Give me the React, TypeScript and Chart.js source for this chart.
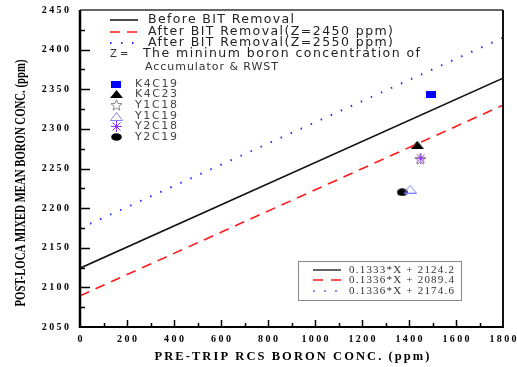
import React, { useEffect, useRef } from 'react';
import { Chart, registerables } from 'chart.js';

Chart.register(...registerables);

// ---- data ----
const lineX = [0, 1800];
const beforeLine = [2124.2, 2364.1];
const after2450Line = [2089.4, 2329.9];
const after2550Line = [2174.6, 2415.1];
const lineLabels = ['Before BIT Removal', 'After BIT Removal(Z=2450 ppm)', 'After BIT Removal(Z=2550 ppm)'];
const noteLabels = ['Z =', 'The mininum boron concentration of', 'Accumulator & RWST'];
const fitLabels = ['0.1333*X + 2124.2', '0.1336*X + 2089.4', '0.1336*X + 2174.6'];
const pointNames = ['K4C19', 'K4C23', 'Y1C18', 'Y1C19', 'Y2C18', 'Y2C19'];
const pointX = [1494, 1435, 1448, 1405, 1450, 1371];
const pointY = [2344, 2280, 2262, 2224, 2263, 2220];
const xTickLabels = ['0', '200', '400', '600', '800', '1000', '1200', '1400', '1600', '1800'];
const yTickLabels = ['2050', '2100', '2150', '2200', '2250', '2300', '2350', '2400', '2450'];
const xTitle = 'PRE-TRIP RCS BORON CONC. (ppm)';
const yTitle = 'POST-LOCA MIXED MEAN BORON CONC. (ppm)';

type Ctx = CanvasRenderingContext2D;

function mk(w: number, h: number, draw: (c: Ctx) => void): HTMLCanvasElement {
  const cv = document.createElement('canvas');
  cv.width = w;
  cv.height = h;
  const c = cv.getContext('2d') as Ctx;
  draw(c);
  return cv;
}

function makeMarkers(): HTMLCanvasElement[] {
  const square = mk(10, 7, (c) => { c.fillStyle = '#0000ff'; c.fillRect(0, 0, 10, 7); });
  const tri = mk(13, 8, (c) => {
    c.fillStyle = '#000';
    c.beginPath(); c.moveTo(6.5, 0); c.lineTo(13, 8); c.lineTo(0, 8); c.closePath(); c.fill();
  });
  const star = mk(13, 12, (c) => {
    c.strokeStyle = '#888'; c.lineWidth = 1;
    c.beginPath();
    for (let i = 0; i < 10; i++) {
      const r = i % 2 === 0 ? 5.8 : 2.5;
      const a = -Math.PI / 2 + (i * Math.PI) / 5;
      const px = 6.5 + r * Math.cos(a);
      const py = 6.5 + r * Math.sin(a);
      if (i === 0) c.moveTo(px, py); else c.lineTo(px, py);
    }
    c.closePath(); c.stroke();
  });
  const otri = mk(13, 9, (c) => {
    c.strokeStyle = '#8080ff'; c.lineWidth = 1;
    c.beginPath(); c.moveTo(6.5, 0.5); c.lineTo(12.5, 8.5); c.lineTo(0.5, 8.5); c.closePath(); c.stroke();
  });
  const ast = mk(11, 11, (c) => {
    c.strokeStyle = '#9933ff'; c.lineWidth = 1;
    c.beginPath();
    c.moveTo(5.5, 0); c.lineTo(5.5, 11);
    c.moveTo(0, 5.5); c.lineTo(11, 5.5);
    c.moveTo(1.5, 1.5); c.lineTo(9.5, 9.5);
    c.moveTo(9.5, 1.5); c.lineTo(1.5, 9.5);
    c.stroke();
  });
  const circ = mk(11, 8, (c) => {
    c.fillStyle = '#000';
    c.beginPath(); c.ellipse(5.5, 4, 5.3, 3.8, 0, 0, Math.PI * 2); c.fill();
  });
  return [square, tri, star, otri, ast, circ];
}

function fitText(ctx: Ctx, text: string, x: number, y: number, font: string, color: string, target: number, align: string = 'left') {
  ctx.save();
  ctx.font = font;
  ctx.fillStyle = color;
  ctx.textBaseline = 'middle';
  ctx.textAlign = 'left';
  (ctx as any).letterSpacing = '0px';
  const w = ctx.measureText(text).width;
  const n = text.length;
  const ls = n > 1 ? (target - w) / (n - 1) : 0;
  (ctx as any).letterSpacing = ls + 'px';
  const left = align === 'right' ? x - target : align === 'center' ? x - target / 2 : x;
  ctx.fillText(text, left, y);
  ctx.restore();
}

function spacedText(ctx: Ctx, text: string, x: number, y: number, font: string, ls: number, align: string) {
  ctx.save();
  ctx.font = font;
  ctx.fillStyle = '#000';
  ctx.textBaseline = 'middle';
  ctx.textAlign = 'left';
  (ctx as any).letterSpacing = '0px';
  const w = ctx.measureText(text).width + ls * (text.length - 1);
  (ctx as any).letterSpacing = ls + 'px';
  const left = align === 'right' ? x - w : align === 'center' ? x - w / 2 : x;
  ctx.fillText(text, left, y);
  ctx.restore();
}

function sampleLine(ctx: Ctx, x0: number, x1: number, y: number, color: string, dash: number[], width: number, cap: CanvasLineCap = 'butt') {
  ctx.save();
  ctx.strokeStyle = color;
  ctx.lineWidth = width;
  ctx.lineCap = cap;
  ctx.setLineDash(dash);
  ctx.beginPath();
  ctx.moveTo(x0, y);
  ctx.lineTo(x1, y);
  ctx.stroke();
  ctx.restore();
}

export default function App() {
  const ref = useRef<HTMLCanvasElement | null>(null);

  useEffect(() => {
    document.body.style.margin = '0';
    const canvas = ref.current;
    if (!canvas) return;
    const markers = makeMarkers();
    const lineStyles = [
      { color: '#111111', dash: [] as number[], width: 1.5, cap: 'butt' as CanvasLineCap },
      { color: '#ff1a1a', dash: [10, 7], width: 1.6, cap: 'butt' as CanvasLineCap },
      { color: '#2a2aff', dash: [1.5, 9.5], width: 2, cap: 'butt' as CanvasLineCap },
    ];
    const lineData = [beforeLine, after2450Line, after2550Line];

    const decor = {
      id: 'decor',
      afterDraw(chart: any) {
        const ctx: Ctx = chart.ctx;
        const a = chart.chartArea;
        const xs = chart.scales.x;
        const ys = chart.scales.y;
        ctx.save();
        // frame
        ctx.strokeStyle = '#333';
        ctx.lineWidth = 1.5;
        ctx.beginPath(); ctx.moveTo(a.left, a.top); ctx.lineTo(a.right, a.top); ctx.stroke();
        ctx.strokeStyle = '#111';
        ctx.lineWidth = 2;
        ctx.beginPath(); ctx.moveTo(a.right, a.top); ctx.lineTo(a.right, a.bottom); ctx.stroke();
        ctx.strokeStyle = '#000';
        ctx.lineWidth = 2;
        ctx.beginPath(); ctx.moveTo(a.left - 1, a.bottom); ctx.lineTo(a.right + 1, a.bottom); ctx.stroke();
        ctx.lineWidth = 2.5;
        ctx.beginPath(); ctx.moveTo(a.left, a.top); ctx.lineTo(a.left, a.bottom + 1); ctx.stroke();

        // x ticks (inward)
        ctx.lineWidth = 1.5;
        const xMin = xs.min, xMax = xs.max;
        for (let v = xMin + 100; v < xMax; v += 100) {
          const px = Math.round(xs.getPixelForValue(v)) + 0.5;
          const len = v % 200 === 0 ? 7 : 4;
          ctx.beginPath(); ctx.moveTo(px, a.bottom); ctx.lineTo(px, a.bottom - len); ctx.stroke();
        }
        // y ticks (inward)
        for (let v = ys.min + 25; v < ys.max; v += 25) {
          const py = Math.round(ys.getPixelForValue(v)) + 0.5;
          const len = v % 50 === 0 ? 10 : 5;
          ctx.beginPath(); ctx.moveTo(a.left, py); ctx.lineTo(a.left + len, py); ctx.stroke();
        }
        ctx.restore();

        // tick labels
        const tickFont = 'bold 10px "Liberation Serif"';
        xTickLabels.forEach((t) => {
          spacedText(ctx, t, xs.getPixelForValue(Number(t)), a.bottom + 12, tickFont, 2.4, 'center');
        });
        yTickLabels.forEach((t) => {
          spacedText(ctx, t, a.left - 11, ys.getPixelForValue(Number(t)), tickFont, 2.4, 'right');
        });

        // axis titles
        fitText(ctx, xTitle, 292, 357, 'bold 12.5px "Liberation Serif"', '#000', 275, 'center');
        ctx.save();
        ctx.translate(21, 183);
        ctx.rotate(-Math.PI / 2);
        ctx.font = 'bold 15px "Liberation Serif"';
        const yw = ctx.measureText(yTitle).width;
        ctx.scale(247 / yw, 1);
        ctx.fillStyle = '#000';
        ctx.textAlign = 'center';
        ctx.textBaseline = 'middle';
        ctx.fillText(yTitle, 0, 0);
        ctx.restore();

        // top-left legend
        const legY = [20, 32, 43];
        const legW = [146, 245, 245];
        lineLabels.forEach((t, i) => {
          const s = lineStyles[i];
          sampleLine(ctx, 110, 138, legY[i], s.color, s.dash, s.width, s.cap);
          fitText(ctx, t, 148, legY[i], '12.5px "DejaVu Sans"', '#222', legW[i]);
        });
        ctx.save();
        ctx.font = '10px "DejaVu Sans"';
        ctx.fillStyle = '#333';
        ctx.textBaseline = 'middle';
        ctx.fillText(noteLabels[0], 110, 54);
        ctx.restore();
        fitText(ctx, noteLabels[1], 143, 54, '12.5px "DejaVu Sans"', '#222', 277);
        fitText(ctx, noteLabels[2], 145, 67, '11px "DejaVu Sans"', '#333', 133);

        const pY = [84, 94, 105, 116, 126, 137];
        pointNames.forEach((n, i) => {
          const m = markers[i];
          ctx.drawImage(m, Math.round(116 - m.width / 2), Math.round(pY[i] - m.height / 2));
          fitText(ctx, n, 135, pY[i], '11px "DejaVu Sans"', '#444', 42);
        });

        // bottom-right fit legend
        ctx.save();
        ctx.strokeStyle = '#888';
        ctx.lineWidth = 1;
        ctx.strokeRect(298.5, 261.5, 163, 39);
        ctx.restore();
        const fY = [270, 280, 291];
        const fitStyles = [
          { color: '#111', dash: [] as number[], width: 1.3 },
          { color: '#ff1a1a', dash: [10, 8], width: 1.5 },
          { color: '#8a8aff', dash: [2, 9], width: 2 },
        ];
        fitLabels.forEach((t, i) => {
          const s = fitStyles[i];
          sampleLine(ctx, 313, 341, fY[i], s.color, s.dash, s.width);
          fitText(ctx, t, 349, fY[i], '11px "Liberation Serif"', '#333', 105);
        });
      },
    };

    const lineDatasets = lineData.map((vals, i) => ({
      type: 'line' as const,
      label: lineLabels[i],
      data: lineX.map((x, j) => ({ x, y: vals[j] })),
      borderColor: lineStyles[i].color,
      borderWidth: lineStyles[i].width,
      borderDash: lineStyles[i].dash,
      pointRadius: 0,
      fill: false,
      tension: 0,
    }));
    const pointDatasets = pointNames.map((n, i) => ({
      type: 'scatter' as const,
      label: n,
      data: [{ x: pointX[i], y: pointY[i] }],
      pointStyle: markers[i],
      pointRadius: 6,
    }));

    const chart = new Chart(canvas, {
      type: 'scatter',
      data: { datasets: [...lineDatasets, ...pointDatasets] as any },
      options: {
        animation: false,
        responsive: false,
        devicePixelRatio: 1,
        layout: { padding: { left: 0, top: 10, right: 14, bottom: 0 } },
        plugins: { legend: { display: false }, tooltip: { enabled: false } },
        scales: {
          x: {
            type: 'linear',
            min: 0,
            max: 1800,
            ticks: { display: false },
            grid: { display: false },
            border: { display: false },
            afterFit: (s: any) => { s.height = 40; },
          },
          y: {
            type: 'linear',
            min: 2050,
            max: 2450,
            ticks: { display: false },
            grid: { display: false },
            border: { display: false },
            afterFit: (s: any) => { s.width = 80; },
          },
        },
      },
      plugins: [decor],
    });
    return () => chart.destroy();
  }, []);

  return (
    <div style={{ width: 517, height: 367, background: '#fff' }}>
      <canvas ref={ref} width={517} height={367} />
    </div>
  );
}
